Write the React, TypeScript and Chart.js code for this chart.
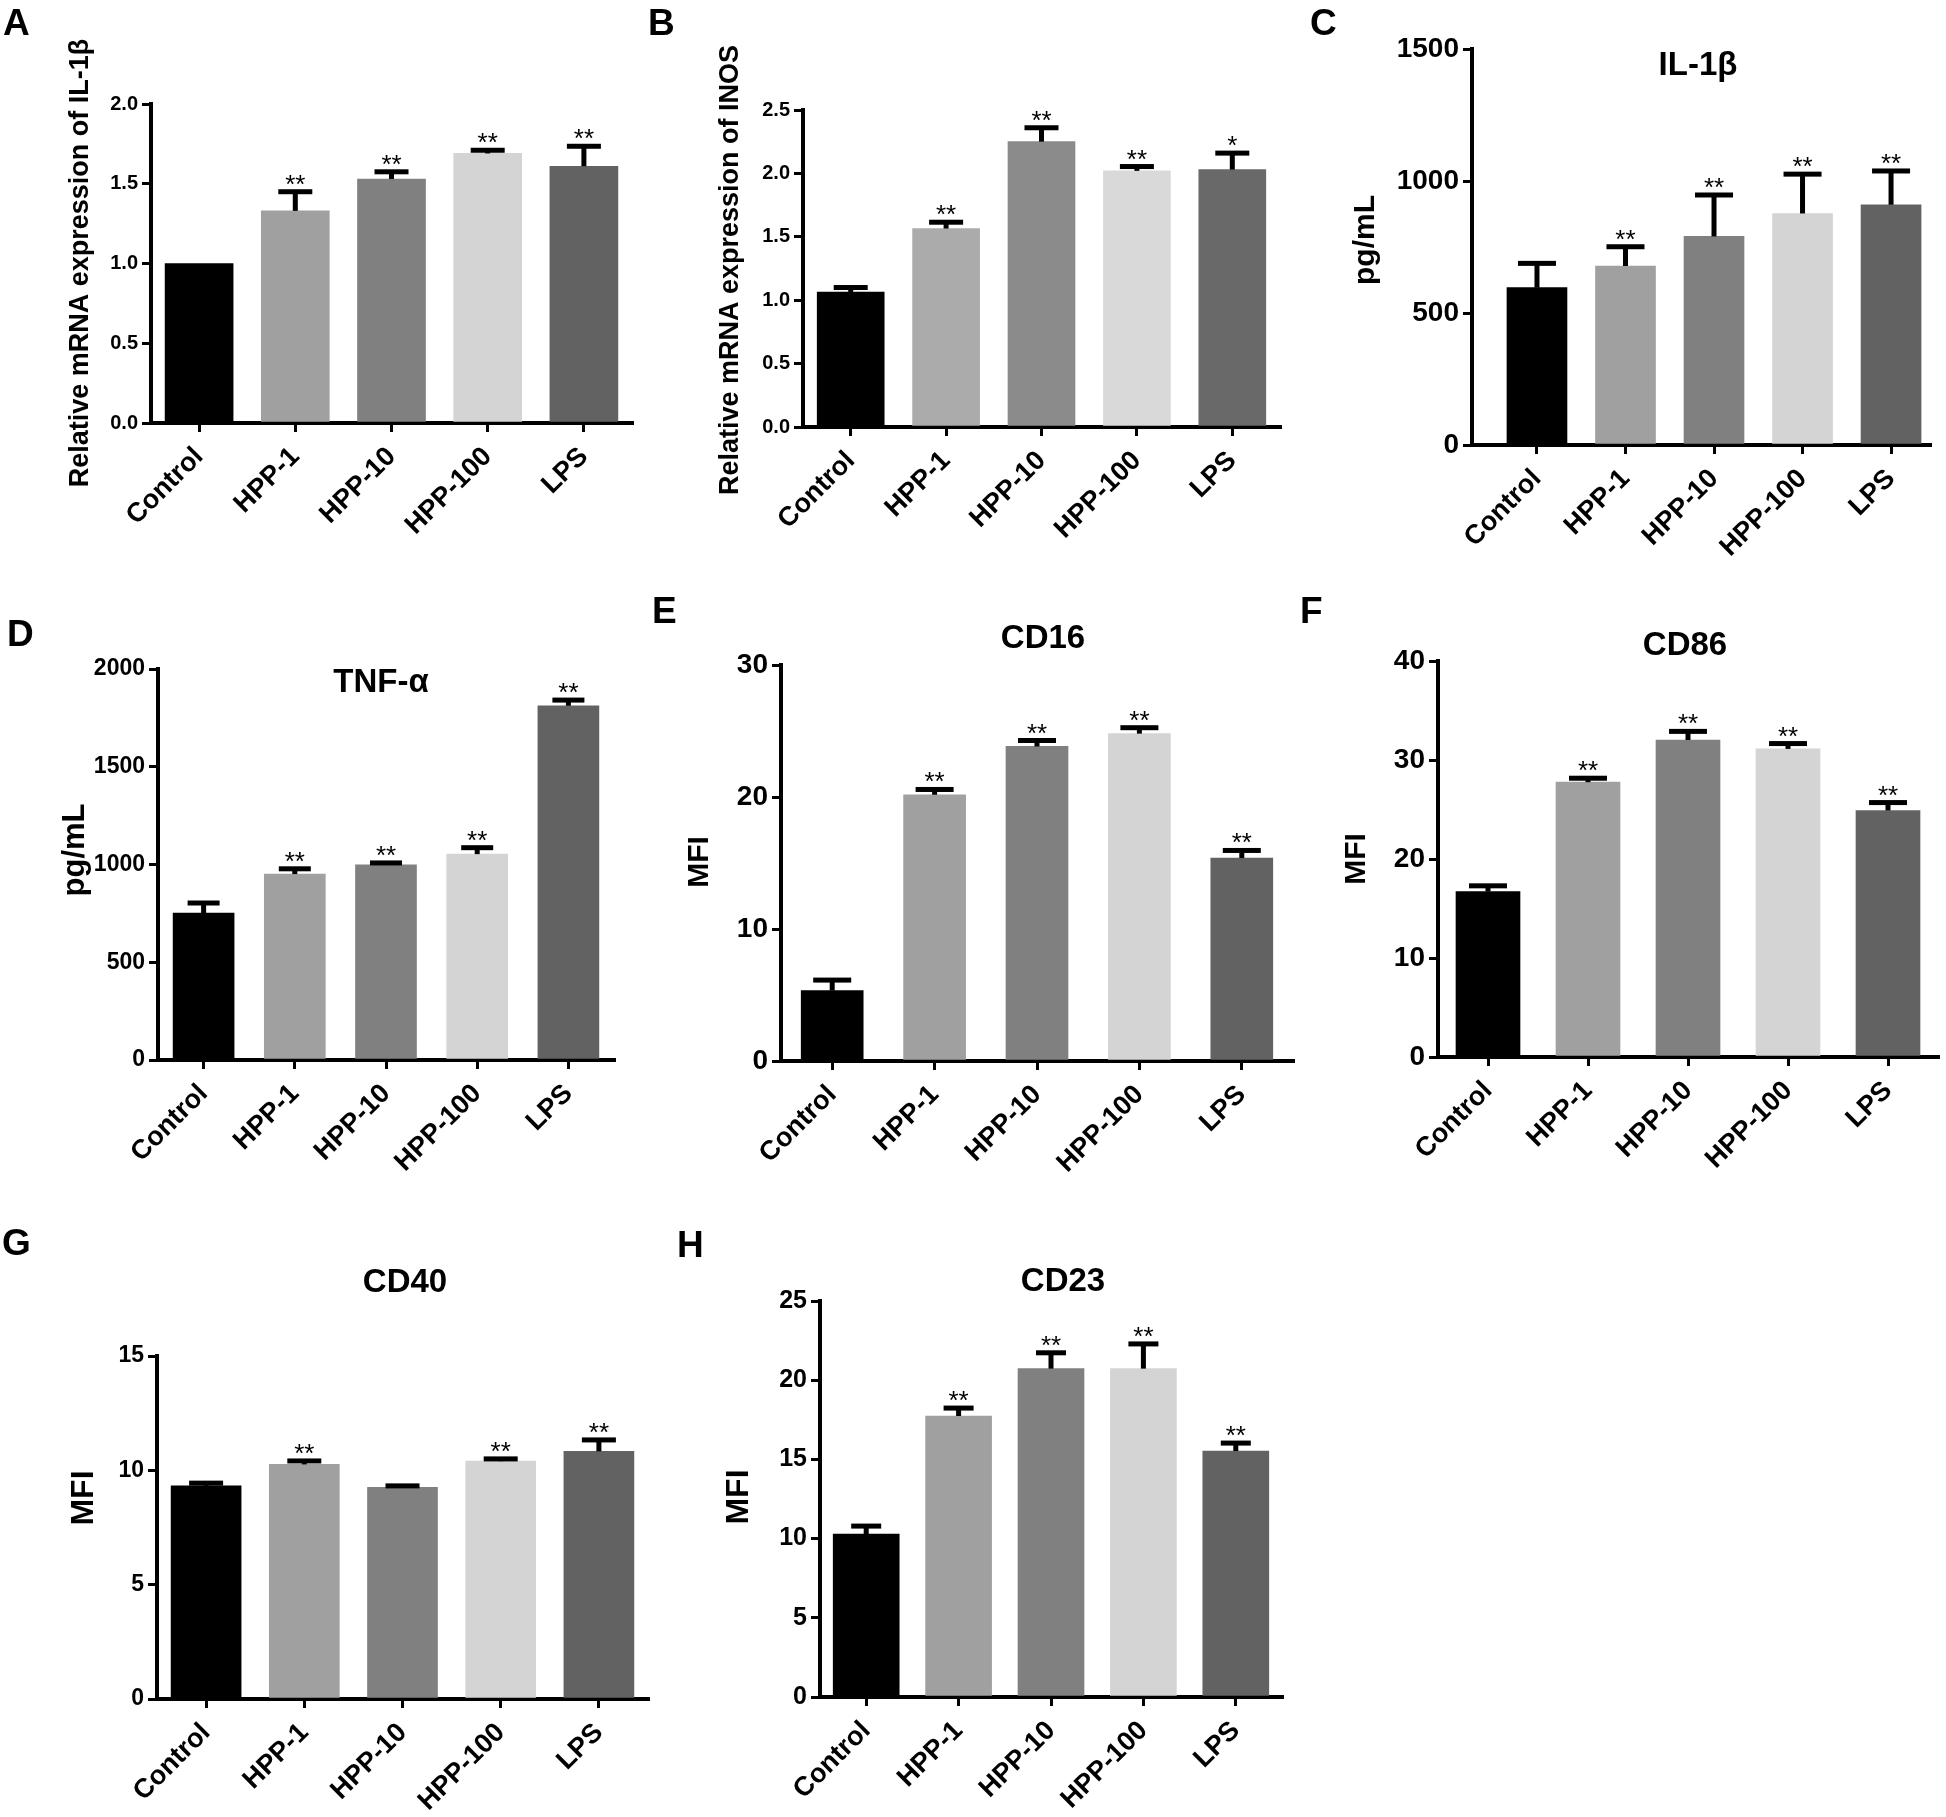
import React, { useEffect, useRef } from 'react';
import { Chart, registerables } from 'chart.js';

Chart.register(...registerables);

// ---------- data ----------
const categories = ['Control', 'HPP-1', 'HPP-10', 'HPP-100', 'LPS'];

const aMeans = [1.0, 1.33, 1.53, 1.69, 1.61];
const aErrors = [0, 0.12, 0.045, 0.02, 0.125];
const aSig = ['', '**', '**', '**', '**'];

const bMeans = [1.065, 1.565, 2.25, 2.02, 2.03];
const bErrors = [0.035, 0.05, 0.11, 0.034, 0.13];
const bSig = ['', '**', '**', '**', '*'];

const cMeans = [596, 678, 790, 877, 910];
const cErrors = [92, 73, 157, 149, 128];
const cSig = ['', '**', '**', '**', '**'];

const dMeans = [751, 951, 998, 1053, 1812];
const dErrors = [52, 27, 10, 33, 29];
const dSig = ['', '**', '**', '**', '**'];

const eMeans = [5.33, 20.17, 23.83, 24.8, 15.38];
const eErrors = [0.8, 0.4, 0.45, 0.45, 0.57];
const eSig = ['', '**', '**', '**', '**'];

const fMeans = [16.71, 27.76, 32.02, 31.12, 24.9];
const fErrors = [0.58, 0.4, 0.87, 0.54, 0.8];
const fSig = ['', '**', '**', '**', '**'];

const gMeans = [9.32, 10.26, 9.26, 10.4, 10.83];
const gErrors = [0.12, 0.15, 0.06, 0.1, 0.5];
const gSig = ['', '**', '', '**', '**'];

const hMeans = [10.29, 17.74, 20.73, 20.73, 15.53];
const hErrors = [0.5, 0.5, 1.0, 1.56, 0.5];
const hSig = ['', '**', '**', '**', '**'];

const aTicks = [0, 0.5, 1.0, 1.5, 2.0];
const bTicks = [0, 0.5, 1.0, 1.5, 2.0, 2.5];
const cTicks = [0, 500, 1000, 1500];
const dTicks = [0, 500, 1000, 1500, 2000];
const eTicks = [0, 10, 20, 30];
const fTicks = [0, 10, 20, 30, 40];
const gTicks = [0, 5, 10, 15];
const hTicks = [0, 5, 10, 15, 20, 25];

// ---------- styles ----------
const greys = ['#000000', '#a0a0a0', '#808080', '#d4d4d4', '#626262'];
const greysB = ['#000000', '#ababab', '#8b8b8b', '#d9d9d9', '#696969'];
const FONT = '"Liberation Sans", Arial, Helvetica, sans-serif';

type Box = { x: number; y: number; w: number; h: number };
type Plot = { l: number; t: number; r: number; b: number };
type PanelDef = {
  letter: string; letterPos: [number, number];
  title?: string; titlePos?: [number, number];
  yTitle: string; yTitlePos: [number, number]; yTitleSize: number;
  means: number[]; errors: number[]; sig: string[];
  ticks: number[]; decimals: number; colors: string[];
  canvas: Box; plot: Plot; xMin: number; xMax: number;
  barW: number; capW: number; tickSize: number;
};

const panels: PanelDef[] = [
  {
    letter: 'A', letterPos: [3, 35], yTitle: 'Relative mRNA expression of IL-1β', yTitlePos: [81, 263], yTitleSize: 27,
    means: aMeans, errors: aErrors, sig: aSig, ticks: aTicks, decimals: 1, colors: greys,
    canvas: { x: 0, y: 0, w: 640, h: 580 }, plot: { l: 151, t: 104, r: 632, b: 423 }, xMin: -0.5, xMax: 4.5,
    barW: 68, capW: 34, tickSize: 20,
  },
  {
    letter: 'B', letterPos: [648, 35], yTitle: 'Relative mRNA expression of INOS', yTitlePos: [731, 270], yTitleSize: 27,
    means: bMeans, errors: bErrors, sig: bSig, ticks: bTicks, decimals: 1, colors: greysB,
    canvas: { x: 640, y: 0, w: 650, h: 580 }, plot: { l: 803, t: 110, r: 1280, b: 427 }, xMin: -0.5, xMax: 4.5,
    barW: 67, capW: 34, tickSize: 20,
  },
  {
    letter: 'C', letterPos: [1310, 35], title: 'IL-1β', titlePos: [1698, 66], yTitle: 'pg/mL', yTitlePos: [1366, 240], yTitleSize: 30,
    means: cMeans, errors: cErrors, sig: cSig, ticks: cTicks, decimals: 0, colors: greys,
    canvas: { x: 1290, y: 0, w: 656, h: 600 }, plot: { l: 1472, t: 49, r: 1930, b: 445 }, xMin: -0.734, xMax: 4.44,
    barW: 60, capW: 38, tickSize: 28,
  },
  {
    letter: 'D', letterPos: [7, 646], title: 'TNF-α', titlePos: [381, 683], yTitle: 'pg/mL', yTitlePos: [75, 850], yTitleSize: 31,
    means: dMeans, errors: dErrors, sig: dSig, ticks: dTicks, decimals: 0, colors: greys,
    canvas: { x: 0, y: 600, w: 640, h: 600 }, plot: { l: 158, t: 669, r: 614, b: 1060 }, xMin: -0.5, xMax: 4.5,
    barW: 61, capW: 32, tickSize: 23,
  },
  {
    letter: 'E', letterPos: [652, 623], title: 'CD16', titlePos: [1043, 639], yTitle: 'MFI', yTitlePos: [700, 862], yTitleSize: 30,
    means: eMeans, errors: eErrors, sig: eSig, ticks: eTicks, decimals: 0, colors: greys,
    canvas: { x: 640, y: 590, w: 660, h: 610 }, plot: { l: 781, t: 665, r: 1293, b: 1061 }, xMin: -0.5, xMax: 4.5,
    barW: 62, capW: 38, tickSize: 28,
  },
  {
    letter: 'F', letterPos: [1300, 623], title: 'CD86', titlePos: [1685, 646], yTitle: 'MFI', yTitlePos: [1357, 859], yTitleSize: 30,
    means: fMeans, errors: fErrors, sig: fSig, ticks: fTicks, decimals: 0, colors: greys,
    canvas: { x: 1298, y: 590, w: 648, h: 610 }, plot: { l: 1438, t: 661, r: 1938, b: 1057 }, xMin: -0.5, xMax: 4.5,
    barW: 64, capW: 38, tickSize: 28,
  },
  {
    letter: 'G', letterPos: [2, 1255], title: 'CD40', titlePos: [405, 1283], yTitle: 'MFI', yTitlePos: [84, 1498], yTitleSize: 32,
    means: gMeans, errors: gErrors, sig: gSig, ticks: gTicks, decimals: 0, colors: greys,
    canvas: { x: 0, y: 1200, w: 660, h: 617 }, plot: { l: 157, t: 1356, r: 648, b: 1699 }, xMin: -0.5, xMax: 4.5,
    barW: 70, capW: 34, tickSize: 23,
  },
  {
    letter: 'H', letterPos: [677, 1257], title: 'CD23', titlePos: [1063, 1282], yTitle: 'MFI', yTitlePos: [739, 1497], yTitleSize: 32,
    means: hMeans, errors: hErrors, sig: hSig, ticks: hTicks, decimals: 0, colors: greys,
    canvas: { x: 660, y: 1200, w: 680, h: 617 }, plot: { l: 820, t: 1301, r: 1282, b: 1697 }, xMin: -0.5, xMax: 4.5,
    barW: 66, capW: 30, tickSize: 25,
  },
];

function buildChart(canvas: HTMLCanvasElement, p: PanelDef) {
  const C = p.canvas;
  const P = p.plot;
  const yAxisW = P.l - C.x;
  const xAxisH = C.y + C.h - P.b;
  const padTop = P.t - C.y;
  const padRight = C.x + C.w - P.r;
  const yMax = p.ticks[p.ticks.length - 1];

  const overlay = {
    id: 'overlay' + p.letter,
    afterDatasetsDraw(chart: any) {
      const ctx = chart.ctx as CanvasRenderingContext2D;
      const meta = chart.getDatasetMeta(0);
      const ys = chart.scales.y;
      ctx.save();
      ctx.fillStyle = '#000';
      meta.data.forEach((bar: any, i: number) => {
        const m = p.means[i];
        const e = p.errors[i];
        const x = bar.x;
        const yTop = ys.getPixelForValue(m);
        const yCap = ys.getPixelForValue(m + e);
        if (e > 0) {
          ctx.fillRect(x - 2.5, yCap, 5, Math.max(yTop - yCap, 0));
          ctx.fillRect(x - p.capW / 2, yCap - 2.5, p.capW, 5);
        }
        if (p.sig[i]) {
          ctx.font = `26px ${FONT}`;
          ctx.textAlign = 'center';
          ctx.textBaseline = 'alphabetic';
          ctx.fillText(p.sig[i], x, yCap + 1);
        }
      });
      ctx.restore();
    },
    afterDraw(chart: any) {
      const ctx = chart.ctx as CanvasRenderingContext2D;
      ctx.save();
      ctx.fillStyle = '#000';
      ctx.font = `bold 37px ${FONT}`;
      ctx.textAlign = 'left';
      ctx.textBaseline = 'alphabetic';
      ctx.fillText(p.letter, p.letterPos[0] - C.x, p.letterPos[1] - C.y);
      if (p.title && p.titlePos) {
        ctx.font = `bold 33px ${FONT}`;
        ctx.textAlign = 'center';
        ctx.textBaseline = 'middle';
        ctx.fillText(p.title, p.titlePos[0] - C.x, p.titlePos[1] - C.y);
      }
      ctx.translate(p.yTitlePos[0] - C.x, p.yTitlePos[1] - C.y);
      ctx.rotate(-Math.PI / 2);
      ctx.font = `bold ${p.yTitleSize}px ${FONT}`;
      ctx.textAlign = 'center';
      ctx.textBaseline = 'middle';
      ctx.fillText(p.yTitle, 0, 0);
      ctx.restore();
    },
  };

  return new Chart(canvas, {
    type: 'bar',
    data: {
      datasets: [
        {
          data: p.means.map((m, i) => ({ x: i, y: m })),
          backgroundColor: p.colors,
          borderWidth: 0,
          barThickness: p.barW,
        } as any,
      ],
    },
    options: {
      responsive: false,
      animation: false,
      devicePixelRatio: 1,
      layout: { padding: { top: padTop, right: padRight, left: 0, bottom: 0 } },
      plugins: { legend: { display: false }, tooltip: { enabled: false }, title: { display: false } },
      scales: {
        x: {
          type: 'linear',
          min: p.xMin,
          max: p.xMax,
          offset: false,
          afterBuildTicks: (s: any) => {
            s.ticks = categories.map((_, i) => ({ value: i }));
          },
          afterFit: (s: any) => {
            s.height = xAxisH;
          },
          grid: { display: true, drawOnChartArea: false, drawTicks: true, tickLength: 9, lineWidth: 3, color: '#000', offset: false },
          border: { display: true, color: '#000', width: 4 },
          ticks: {
            autoSkip: false,
            minRotation: 45,
            maxRotation: 45,
            padding: 9,
            color: '#000',
            font: { family: FONT, size: 27, weight: 'bold' },
            callback: (v: any) => categories[Number(v)] ?? '',
          },
        },
        y: {
          type: 'linear',
          min: 0,
          max: yMax,
          afterBuildTicks: (s: any) => {
            s.ticks = p.ticks.map((v) => ({ value: v }));
          },
          afterFit: (s: any) => {
            s.width = yAxisW;
          },
          grid: { display: true, drawOnChartArea: false, drawTicks: true, tickLength: 9, lineWidth: 3, color: '#000' },
          border: { display: true, color: '#000', width: 4 },
          ticks: {
            padding: 4,
            color: '#000',
            font: { family: FONT, size: p.tickSize, weight: 'bold' },
            callback: (v: any) => Number(v).toFixed(p.decimals),
          },
        },
      },
    } as any,
    plugins: [overlay],
  });
}

function Panel({ p }: { p: PanelDef }) {
  const ref = useRef<HTMLCanvasElement | null>(null);
  useEffect(() => {
    if (!ref.current) return;
    const chart = buildChart(ref.current, p);
    return () => chart.destroy();
  }, [p]);
  return (
    <canvas
      ref={ref}
      width={p.canvas.w}
      height={p.canvas.h}
      style={{ position: 'absolute', left: p.canvas.x, top: p.canvas.y, width: p.canvas.w, height: p.canvas.h }}
    />
  );
}

export default function App() {
  return (
    <div style={{ position: 'absolute', left: 0, top: 0, width: 1946, height: 1817, background: '#ffffff', overflow: 'hidden' }}>
      {panels.map((p) => (
        <Panel key={p.letter} p={p} />
      ))}
    </div>
  );
}
